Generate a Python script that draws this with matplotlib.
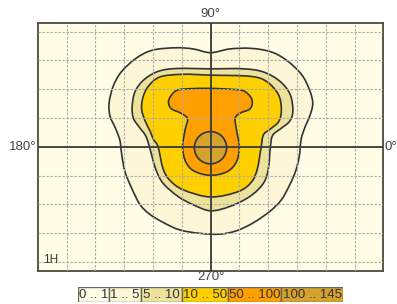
import numpy as np
import matplotlib
matplotlib.use("Agg")
import matplotlib.pyplot as plt
from matplotlib.path import Path
from matplotlib.patches import PathPatch, Circle

plt.rcParams["font.family"] = ["Liberation Sans", "DejaVu Sans"]

# --- data: contour outlines (grid units) ---
c1_x = [0.0, 0.67, 1.40, 2.10, 2.65, 3.17, 3.45, 3.55, 3.45, 3.28, 3.15, 3.11, 3.07, 2.95, 2.75, 2.46,
        2.06, 1.48, 0.91, 0.33, -0.39, -1.08, -1.65, -2.11, -2.45, -2.74, -2.97, -3.08, -3.12, -3.16,
        -3.31, -3.49, -3.52, -3.38, -3.10, -2.58, -2.00, -1.20, -0.60]
c1_y = [3.27, 3.40, 3.42, 3.30, 3.00, 2.50, 1.95, 1.50, 1.08, 0.68, 0.28, -0.08, -0.40, -0.86, -1.32, -1.84,
        -2.24, -2.64, -2.91, -3.03, -3.00, -2.88, -2.62, -2.34, -2.00, -1.43, -0.86, -0.29, 0.06, 0.28,
        0.67, 1.07, 1.53, 2.10, 2.60, 3.08, 3.36, 3.44, 3.40]

c5_x = [0.0, 1.14, 1.84, 2.42, 2.77, 2.86, 2.74, 2.45, 2.16, 2.08, 2.01, 1.84, 1.37, 0.67, 0.0,
        -0.60, -1.13, -1.65, -1.91, -2.12, -2.25, -2.50, -2.68, -2.72, -2.62, -2.31, -1.82, -1.18]
c5_y = [2.71, 2.71, 2.60, 2.27, 1.81, 1.23, 0.88, 0.64, 0.40, 0.0, -0.75, -1.26, -1.72, -2.07, -2.22,
        -2.01, -1.72, -1.26, -0.75, 0.0, 0.38, 0.72, 1.00, 1.40, 1.92, 2.33, 2.62, 2.72]

c10_x = [0.0, 1.37, 1.95, 2.36, 2.46, 2.37, 2.08, 1.84, 1.76, 1.63, 1.43, 0.97, 0.0,
         -0.95, -1.42, -1.65, -1.82, -1.98, -2.10, -2.27, -2.39, -2.35, -2.16, -1.75, -0.95]
c10_y = [2.49, 2.45, 2.27, 1.81, 1.29, 0.88, 0.62, 0.42, 0.0, -0.75, -1.21, -1.55, -1.74,
         -1.49, -1.15, -0.75, 0.0, 0.26, 0.55, 0.90, 1.30, 1.70, 2.10, 2.43, 2.52]

c50_x = [0.0, 0.68, 1.14, 1.40, 1.45, 1.35, 1.05, 0.86, 0.90, 1.00, 0.90, 0.58, 0.0,
         -0.57, -0.86, -0.97, -0.88, -0.80, -1.05, -1.36, -1.46, -1.37, -1.15, -0.68]
c50_y = [2.03, 2.00, 1.95, 1.72, 1.50, 1.30, 1.18, 1.00, 0.60, 0.0, -0.52, -0.86, -0.99,
         -0.84, -0.52, 0.0, 0.60, 0.98, 1.18, 1.32, 1.55, 1.78, 1.97, 2.02]

c100_center = (0.0, -0.03)
c100_radius = 0.56

direction_labels = ["0°", "90°", "180°", "270°"]
legend_labels = ["0 .. 1", "1 .. 5", "5 .. 10", "10 .. 50", "50 .. 100", "100 .. 145"]
legend_colors = ["#FFFDE6", "#FDF6D7", "#EDE29B", "#FFD000", "#FFA000", "#D6A22E"]
view_label = "1H"

LINE = "#333333"


def smooth_closed(xs, ys):
    """Closed Catmull-Rom curve through the points, as a bezier Path."""
    pts = np.column_stack([xs, ys])
    n = len(pts)
    verts, codes = [pts[0]], [Path.MOVETO]
    for i in range(n):
        p0, p1, p2, p3 = pts[i - 1], pts[i], pts[(i + 1) % n], pts[(i + 2) % n]
        verts += [p1 + (p2 - p0) / 6, p2 - (p3 - p1) / 6, p2]
        codes += [Path.CURVE4] * 3
    verts.append(pts[0])
    codes.append(Path.CLOSEPOLY)
    return Path(verts, codes)


fig = plt.figure(figsize=(3.97, 3.04), dpi=100)
W, H = 397, 304
L, R, T, B = 37.7, 383.3, 23.3, 271.0
ax = fig.add_axes([L / W, 1 - B / H, (R - L) / W, (B - T) / H])
ax.set_facecolor(legend_colors[0])
ax.set_xlim(-6, 6)
ax.set_ylim(-4.31, 4.29)

outlines = [(c1_x, c1_y), (c5_x, c5_y), (c10_x, c10_y), (c50_x, c50_y)]
for (xs, ys), col in zip(outlines, legend_colors[1:5]):
    ax.add_patch(PathPatch(smooth_closed(xs, ys), facecolor=col, edgecolor=LINE, lw=1.2, zorder=1))
ax.add_patch(Circle(c100_center, c100_radius, facecolor=legend_colors[5], edgecolor=LINE, lw=1.2, zorder=1))

# grid and cross
ax.set_xticks(range(-5, 6))
ax.set_yticks(range(-4, 5))
ax.tick_params(length=0, labelbottom=False, labelleft=False)
ax.set_axisbelow(False)
ax.grid(True, color="#ABABAB", ls=(0, (2.2, 1.4)), lw=0.8)
ax.axhline(0, color="#3A3A3A", lw=1.3, zorder=3)
ax.axvline(0, color="#3A3A3A", lw=1.3, zorder=3)
for s in ax.spines.values():
    s.set_color("#4A4A40")
    s.set_linewidth(1.3)

ax.text(-5.83, -3.93, view_label, fontsize=8.5, color="#333333", ha="left", va="center", zorder=4)

tc = "#444444"
fs = 9.5
fig.text(210.7 / W, 1 - 14 / H, direction_labels[1], ha="center", va="center", fontsize=fs, color=tc)
fig.text(210.7 / W, 1 - 277.5 / H, direction_labels[3], ha="center", va="center", fontsize=fs, color=tc)
fig.text(36.5 / W, 1 - 146.7 / H, direction_labels[2], ha="right", va="center", fontsize=fs, color=tc)
fig.text(384.5 / W, 1 - 146.7 / H, direction_labels[0], ha="left", va="center", fontsize=fs, color=tc)

# colour legend strip
edges = [78.3, 109.3, 141.0, 181.7, 228.3, 281.0, 343.3]
lax = fig.add_axes([edges[0] / W, 1 - 302.3 / H, (edges[-1] - edges[0]) / W, 15.6 / H])
lax.set_xlim(edges[0], edges[-1])
lax.set_ylim(0, 1)
lax.axis("off")
lefts = edges[:-1]
widths = np.diff(edges)
lax.bar(lefts, 1, width=widths, align="edge", color=legend_colors, edgecolor="#666655", lw=1.0)
for x0, w, lab in zip(lefts, widths, legend_labels):
    lax.text(x0 + w / 2, 0.48, lab, ha="center", va="center", fontsize=9.5, color="#333333")

fig.savefig("out.png", dpi=100)
